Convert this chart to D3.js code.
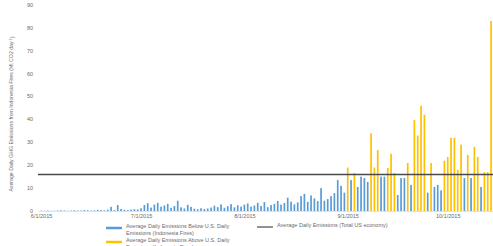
<!DOCTYPE html>
<html>
<head>
<meta charset="utf-8">
<script src="https://cdn.jsdelivr.net/npm/d3@7"></script>
<style>
  body { margin: 0; background: #fff; }
  text { font-family: "Liberation Sans", Arial, sans-serif; fill: #6b6b6b; }
</style>
</head>
<body>
<svg id="chart" width="493" height="246"></svg>
<script>
// daily fire emissions, Mt CO2e per day, starting 6/1/2015
const firstDay = new Date(2015, 5, 1);
const juneValues = [0.1, 0.1, 0.2, 0.1, 0.1, 0.2, 0.3, 0.2, 0.1, 0.2, 0.3, 0.2, 0.2, 0.4, 0.3,
    0.2, 0.3, 0.5, 0.4, 0.3, 0.6, 1.8, 0.4, 2.6, 0.9, 0.5, 0.4, 0.6, 0.8, 0.7];
const julyValues = [1.2, 2.6, 3.4, 1.5, 2.8, 3.6, 1.9, 2.4, 3.1, 1.4, 2.2, 4.5, 1.6, 1.1, 2.7,
    1.8, 1.0, 0.8, 1.2, 0.9, 1.1, 1.5, 2.3, 1.7, 2.9, 1.4, 2.1, 3.0, 1.6, 2.5, 1.9];
const augustValues = [2.8, 3.3, 1.9, 2.4, 3.6, 2.2, 3.9, 1.7, 2.6, 3.1, 4.4, 2.8, 3.5, 5.8, 4.1,
    2.9, 3.8, 6.5, 7.5, 4.0, 6.8, 5.5, 4.3, 10.0, 4.5, 5.2, 6.5, 7.8, 13.5, 11.0, 8.0];
const septemberValues = [19.0, 13.5, 16.6, 10.5, 15.0, 14.4, 12.7, 34.0, 19.0, 26.6, 15.0, 15.0, 18.8, 25.0, 16.6,
    7.0, 14.4, 14.4, 21.0, 11.4, 39.7, 33.0, 46.0, 42.0, 8.0, 21.0, 10.5, 11.4, 9.0, 22.0];
const octoberValues = [23.6, 32.0, 32.0, 18.0, 29.0, 14.4, 24.5, 14.4, 28.0, 23.6, 10.5, 17.0, 17.0, 83.0];
const usDailyEmissions = 16.0;

const yTicks = [0, 10, 20, 30, 40, 50, 60, 70, 80, 90];
const legendLabels = [
    ["Average Daily Emissions Below U.S. Daily", "Emissions (Indonesia Fires)"],
    ["Average Daily Emissions Above U.S. Daily", "Emissions (Indonesia Fires)"],
    ["Average Daily Emissions (Total US economy)"]
];
const yTitle = "Average Daily GHG Emissions from Indonesia Fires (Mt CO2 day";

const blue = "#5b9bd5";
const gold = "#ffc000";

const values = [...juneValues, ...julyValues, ...augustValues, ...septemberValues, ...octoberValues];
const data = values.map((v, i) => ({ date: d3.timeDay.offset(firstDay, i), value: v }));

const svg = d3.select("#chart");

const x = d3.scaleTime()
    .domain([new Date(2015, 4, 31, 2), new Date(2015, 9, 14, 14)])
    .range([38, 493]);

const y = d3.scaleLinear()
    .domain([0, 90])
    .range([211, 5]);

// y axis labels
svg.append("g")
    .selectAll("text")
    .data(yTicks)
    .join("text")
    .attr("x", 33)
    .attr("y", d => y(d))
    .attr("dy", "0.35em")
    .attr("text-anchor", "end")
    .style("font-size", "5.5px")
    .text(d => d);

// x axis
const xAxis = svg.append("g")
    .attr("transform", `translate(0,${y(0)})`)
    .call(d3.axisBottom(x)
        .ticks(d3.timeMonth.every(1))
        .tickSize(0)
        .tickPadding(3)
        .tickFormat(d => `${d.getMonth() + 1}/${d.getDate()}/${d.getFullYear()}`));
xAxis.select(".domain").attr("stroke", "#d9d9d9").attr("stroke-width", 0.8);
xAxis.selectAll("text")
    .style("font-size", "5.5px")
    .style("font-family", "'Liberation Sans', Arial, sans-serif")
    .attr("fill", "#6b6b6b");

// bars
svg.append("g")
    .selectAll("rect")
    .data(data)
    .join("rect")
    .attr("x", d => x(d.date) - 0.85)
    .attr("y", d => y(d.value))
    .attr("width", 1.7)
    .attr("height", d => y(0) - y(d.value))
    .attr("fill", d => d.value > usDailyEmissions ? gold : blue);

// US economy line
svg.append("line")
    .attr("x1", x.range()[0])
    .attr("x2", x.range()[1])
    .attr("y1", y(usDailyEmissions))
    .attr("y2", y(usDailyEmissions))
    .attr("stroke", "#4a4a4a")
    .attr("stroke-width", 1.5);

// y title
const title = svg.append("text")
    .attr("transform", `translate(13,${(y(0) + y(90)) / 2 + 6}) rotate(-90)`)
    .attr("text-anchor", "middle")
    .style("font-size", "5.2px");
title.append("tspan").text(yTitle);
title.append("tspan").attr("dy", "-0.4em").style("font-size", "3.6px").text("-1");
title.append("tspan").attr("dy", "0.4em").text(")");

// legend
const legendItems = [
    { x: 106, y: 228, color: blue, width: 2.5, lines: legendLabels[0] },
    { x: 106, y: 242, color: gold, width: 2.5, lines: legendLabels[1] },
    { x: 257, y: 227, color: "#4a4a4a", width: 1.2, lines: legendLabels[2] }
];
const legend = svg.append("g");
legendItems.forEach(item => {
    legend.append("line")
        .attr("x1", item.x)
        .attr("x2", item.x + 16)
        .attr("y1", item.y)
        .attr("y2", item.y)
        .attr("stroke", item.color)
        .attr("stroke-width", item.width);
    legend.append("text")
        .attr("x", item.x + 20)
        .attr("y", item.y)
        .attr("dy", "0.35em")
        .style("font-size", "5.5px")
        .selectAll("tspan")
        .data(item.lines)
        .join("tspan")
        .attr("x", item.x + 20)
        .attr("dy", (d, i) => i === 0 ? 0 : "1.3em")
        .text(d => d);
});
</script>
</body>
</html>
